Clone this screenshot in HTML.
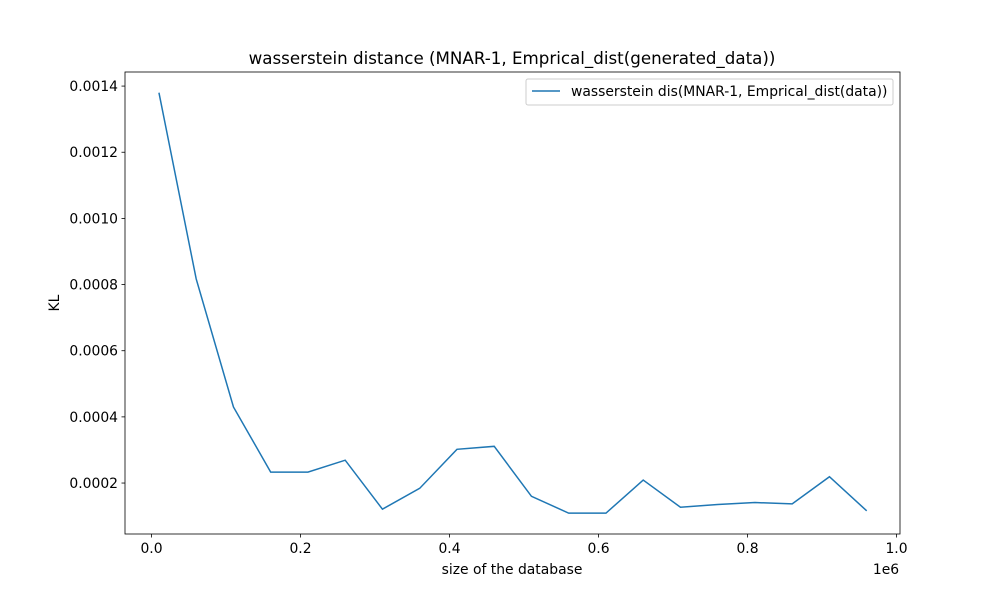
<!DOCTYPE html>
<html><head><meta charset="utf-8"><style>
body{margin:0;background:#fff;font-family:"Liberation Sans","DejaVu Sans",sans-serif}
svg text{font-family:"DejaVu Sans","Liberation Sans",sans-serif}
</style></head><body>
<svg id="chart" width="1000" height="600" xmlns="http://www.w3.org/2000/svg"></svg>
<script>
const sizes=[0.01,0.06,0.11,0.16,0.21,0.26,0.31,0.36,0.41,0.46,0.51,0.56,0.61,0.66,0.71,0.76,0.81,0.86,0.91,0.96];
const values=[0.00138,0.000817,0.00043,0.000233,0.000233,0.000269,0.000121,0.000184,0.000302,0.000311,0.00016,0.000109,0.000109,0.000209,0.000127,0.000135,0.000141,0.000137,0.000219,0.000116];
const xTicks=[0,0.2,0.4,0.6,0.8,1.0];
const xTickLabels=["0.0","0.2","0.4","0.6","0.8","1.0"];
const yTicks=[0.0002,0.0004,0.0006,0.0008,0.0010,0.0012,0.0014];
const yTickLabels=["0.0002","0.0004","0.0006","0.0008","0.0010","0.0012","0.0014"];
const L=125,R=900,T=72,B=534;
const xs=v=>151.5+v*745;
const ys=v=>549.2-v*330800;
const svg=document.getElementById('chart');
const NS="http://www.w3.org/2000/svg";
function mk(tag,attrs,txt){const e=document.createElementNS(NS,tag);for(const k in attrs)e.setAttribute(k,attrs[k]);if(txt!==undefined)e.textContent=txt;svg.appendChild(e);return e;}
let e=mk('rect',{x:L,y:T,width:R-L,height:B-T,fill:'none',stroke:'#000','stroke-width':0.8});


xTicks.forEach((t,i)=>{
  let l=mk('line',{x1:xs(t),x2:xs(t),y1:B,y2:B+3.5,stroke:'#000','stroke-width':0.8});
  
  
  let tx=mk('text',{x:xs(t),y:B+19,'font-size':13.9,'text-anchor':'middle'},xTickLabels[i]);
  
  
});
yTicks.forEach((t,i)=>{
  let l=mk('line',{x1:L-3.5,x2:L,y1:ys(t),y2:ys(t),stroke:'#000','stroke-width':0.8});
  
  
  let tx=mk('text',{x:L-7,y:ys(t)+5,'font-size':13.9,'text-anchor':'end'},yTickLabels[i]);
  
  
});
let p=mk('polyline',{points:sizes.map((s,i)=>xs(s)+','+ys(values[i])).join(' '),fill:'none',stroke:'#1f77b4','stroke-width':1.5});


e=mk('text',{x:512,y:64,'font-size':16.7,'text-anchor':'middle'},'wasserstein distance (MNAR-1, Emprical_dist(generated_data))');


e=mk('text',{x:512,y:574,'font-size':13.9,'text-anchor':'middle'},'size of the database');


e=mk('text',{x:886,y:574,'font-size':13.9,'text-anchor':'middle'},'1e6');


e=mk('text',{x:59,y:303,'font-size':13.9,'text-anchor':'middle',transform:'rotate(-90 59 303)'},'KL');


e=mk('rect',{x:526,y:79,width:367,height:26,rx:2,fill:'#fff',stroke:'#ccc','stroke-width':1});


e=mk('line',{x1:532,x2:560,y1:91,y2:91,stroke:'#1f77b4','stroke-width':1.5});


e=mk('text',{x:571,y:96,'font-size':13.9},'wasserstein dis(MNAR-1, Emprical_dist(data))');


</script>
</body></html>
